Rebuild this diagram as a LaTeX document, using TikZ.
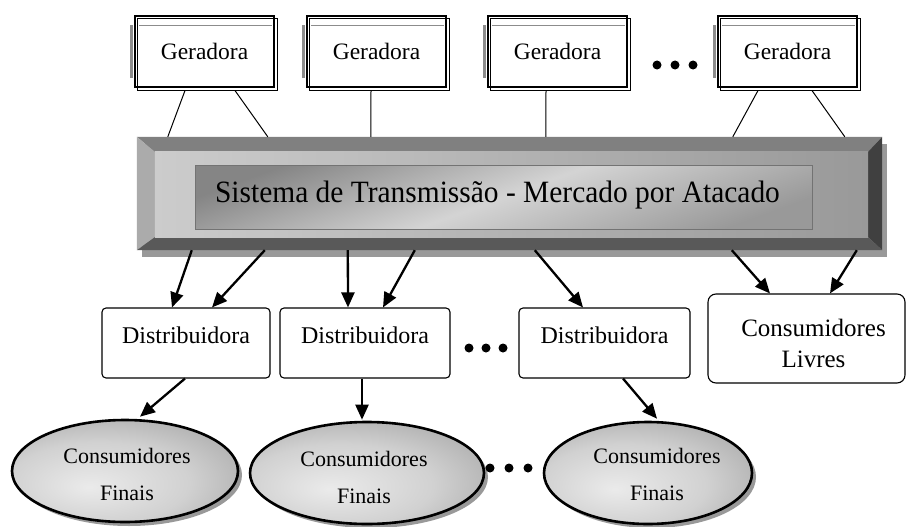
\documentclass[tikz,border=0pt]{standalone}
\usepackage{fontspec}
\setmainfont{Liberation Serif}
\usetikzlibrary{arrows.meta,shapes.geometric,calc}
\pgfdeclarelayer{background}
\pgfsetlayers{background,main}
\pgfdeclareradialshading{ellshade}{\pgfpoint{-8bp}{-8bp}}{color(0bp)=(black!8); color(20bp)=(black!18); color(45bp)=(black!42); color(75bp)=(black!55)}
\begin{document}
\begin{tikzpicture}[x=1pt,y=-1pt,
  gen/.style={draw, line width=1.1pt, fill=white, minimum width=139pt, minimum height=71pt, inner sep=0pt, font=\fontsize{23.5}{27}\selectfont},
  dist/.style={draw, line width=1.1pt, rounded corners=4pt, minimum height=70pt, inner sep=0pt},
  lbl/.style={font=\fontsize{24}{27}\selectfont, inner sep=0pt, anchor=base},
  cons/.style={ellipse, draw, line width=2.6pt, shading=ellshade, minimum height=102pt, inner sep=0pt},
  constext/.style={align=center, inner sep=0pt, font=\fontsize{22}{37}\selectfont},
  arr/.style={line width=2.3pt, -{Triangle[length=15pt,width=13pt]}},
  link/.style={line width=1pt},
  dotmark/.style={circle, fill=black, inner sep=0pt, minimum size=9pt}]
\useasboundingbox (0,0) rectangle (907,527);

% ---------- Geradoras ----------
\node[gen] (g1) at (204.5,51.5) {Geradora};
\node[gen] (g2) at (376.5,51.5) {Geradora};
\node[gen] (g3) at (557.5,51.5) {Geradora};
\node[gen] (g4) at (787.5,51.5) {Geradora};
\foreach \g in {g1,g2,g3,g4}{
  \draw[line width=1.7pt] ([shift={(3pt,-3pt)}]\g.north west) rectangle ([shift={(3pt,-3pt)}]\g.south east);
  \draw[black!45, line width=3pt] ([xshift=-3pt,yshift=-10pt]\g.north west) -- ([xshift=-3pt,yshift=10pt]\g.south west);
  \draw[black!45, line width=1.2pt] ([xshift=5pt,yshift=-10pt]\g.north west) -- ([xshift=-3pt,yshift=-10pt]\g.north east);
}
\node[dotmark] (t1) at (657,65) {};
\node[dotmark] (t2) at (675,65) {};
\node[dotmark] (t3) at (693,65) {};

% ---------- Sistema de Transmissao ----------
\node[minimum width=745pt, minimum height=113pt, inner sep=0pt] (bar) at (509.5,193.5) {};
\begin{pgfonlayer}{background}
  \fill[black!40] ([shift={(5pt,-7pt)}]bar.north west) rectangle ([shift={(5pt,-7pt)}]bar.south east);
\end{pgfonlayer}
\coordinate (fnw) at ($(bar.north west)+(18,15)$);
\coordinate (fne) at ($(bar.north east)+(-14,15)$);
\coordinate (fsw) at ($(bar.south west)+(18,-13)$);
\coordinate (fse) at ($(bar.south east)+(-14,-13)$);
\fill[black!50] (bar.north west) -- (bar.north east) -- (fne) -- (fnw) -- cycle;
\fill[black!33] (bar.north west) -- (fnw) -- (fsw) -- (bar.south west) -- cycle;
\fill[black!75] (bar.north east) -- (bar.south east) -- (fse) -- (fne) -- cycle;
\fill[black!65] (bar.south west) -- (fsw) -- (fse) -- (bar.south east) -- cycle;
\shade[left color=black!20, right color=black!40] (fnw) rectangle (fse);
\node[draw=black!55, line width=0.8pt, minimum width=617pt, minimum height=64pt, inner sep=0pt,
      top color=black!48, bottom color=black!40, middle color=black!17, shading angle=20] (inner) at (503.5,197) {};
\node[font=\fontsize{31}{36}\selectfont, inner sep=0pt, anchor=base] (title) at (497.5,202) {\scalebox{0.95}[1]{Sistema de Transmissão - Mercado por Atacado}};

% links Geradora -> barra
\draw[link] ([xshift=-19.5pt,yshift=-3pt]g1.south) -- ([xshift=31pt]bar.north west);
\draw[link] ([xshift=30.5pt,yshift=-3pt]g1.south) -- ([xshift=131pt]bar.north west);
\draw[link] ([xshift=-5.5pt,yshift=-3pt]g2.south) -- ([xshift=234pt]bar.north west);
\draw[link] ([xshift=-11.5pt,yshift=-3pt]g3.south) -- ([xshift=409pt]bar.north west);
\draw[link] ([xshift=-29.5pt,yshift=-3pt]g4.south) -- ([xshift=596pt]bar.north west);
\draw[link] ([xshift=24.5pt,yshift=-3pt]g4.south) -- ([xshift=708pt]bar.north west);

% ---------- Distribuidoras ----------
\node[dist, minimum width=168pt] (d1) at (186,343) {};
\node[dist, minimum width=170pt] (d2) at (365,343) {};
\node[dist, minimum width=171pt] (d3) at (604.5,343) {};
\node[lbl] (d1t) at (d1.center) {Distribuidora};
\node[lbl] (d2t) at (d2.center) {Distribuidora};
\node[lbl] (d3t) at (d3.center) {Distribuidora};
\node[draw, line width=1.1pt, rounded corners=8pt, minimum width=197pt, minimum height=89pt, inner sep=0pt] (cl) at (806.5,338.5) {};
\node[align=center, font=\fontsize{25}{31}\selectfont, inner sep=0pt] (clt) at ([xshift=7pt,yshift=-5pt]cl.center) {Consumidores\\Livres};
\node[dotmark] (m1) at (469,348) {};
\node[dotmark] (m2) at (486,348) {};
\node[dotmark] (m3) at (503,348) {};

% arrows barra -> distribuidoras
\draw[arr] ([xshift=55pt]bar.south west) -- ([xshift=-14pt]d1.north);
\draw[arr] ([xshift=128pt]bar.south west) -- ([xshift=26pt]d1.north);
\draw[arr] ([xshift=211pt]bar.south west) -- ([xshift=-17pt]d2.north);
\draw[arr] ([xshift=278pt]bar.south west) -- ([xshift=18pt]d2.north);
\draw[arr] ([xshift=398pt]bar.south west) -- ([xshift=-21.5pt]d3.north);
\draw[arr] ([xshift=595pt]bar.south west) -- ([xshift=-36.5pt]cl.north);
\draw[arr] ([xshift=720pt]bar.south west) -- ([xshift=23.5pt]cl.north);

% ---------- Consumidores Finais ----------
\node[cons, minimum width=226pt] (e1) at (125,471) {};
\node[cons, minimum width=234pt] (e2) at (367,473) {};
\node[cons, minimum width=208pt] (e3) at (648,473) {};
\node[constext] (e1t) at ([xshift=2pt,yshift=-3pt]e1.center) {Consumidores\\Finais};
\node[constext] (e2t) at ([xshift=-3pt,yshift=-4pt]e2.center) {Consumidores\\Finais};
\node[constext] (e3t) at ([xshift=9pt,yshift=-1pt]e3.center) {Consumidores\\Finais};
\begin{pgfonlayer}{background}
  \fill[black!40] ([shift={(4pt,-4pt)}]e1.center) ellipse [x radius=113, y radius=51];
  \fill[black!40] ([shift={(4pt,-4pt)}]e2.center) ellipse [x radius=117, y radius=51];
  \fill[black!40] ([shift={(4pt,-4pt)}]e3.center) ellipse [x radius=104, y radius=51];
\end{pgfonlayer}
\node[dotmark] (b1) at (490,468) {};
\node[dotmark] (b2) at (509,468) {};
\node[dotmark] (b3) at (528,468) {};

\draw[arr] ([xshift=-1pt]d1.south) -- ([xshift=15pt,yshift=2pt]e1.north);
\draw[arr] ([xshift=-3pt]d2.south) -- ([xshift=-5pt,yshift=1pt]e2.north);
\draw[arr] ([xshift=18.5pt]d3.south) -- ([xshift=9pt,yshift=2pt]e3.north);
\end{tikzpicture}
\end{document}
